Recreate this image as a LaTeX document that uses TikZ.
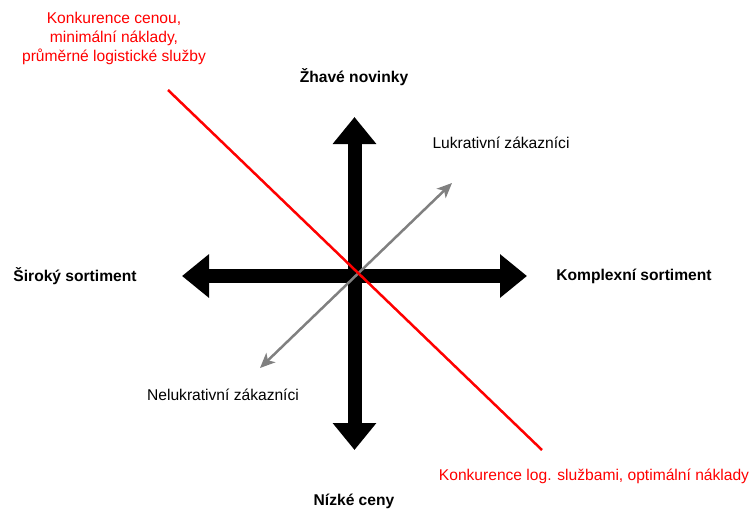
\documentclass[tikz,border=0pt]{standalone}
\usepackage{fontspec}
\setmainfont{Liberation Sans}
\usetikzlibrary{arrows.meta}
\definecolor{redline}{HTML}{FF0000}
\definecolor{grayline}{HTML}{808080}
\tikzset{
  lbl/.style={inner sep=0pt, font=\fontsize{15.6}{19}\selectfont},
  boldlbl/.style={lbl, font=\fontsize{15.6}{19}\selectfont\bfseries},
  redlbl/.style={lbl, text=redline, align=center},
  bigarrow/.style={line width=14pt, draw=black, {Triangle[width=42pt,length=27pt]}-{Triangle[width=42pt,length=27pt]}},
  grayarrow/.style={line width=2.5pt, draw=grayline, {Stealth[length=15pt,width=13pt,inset=4pt]}-{Stealth[length=15pt,width=13pt,inset=4pt]}},
  redstroke/.style={line width=2.5pt, draw=redline}
}
\begin{document}
\begin{tikzpicture}[x=1pt,y=-1pt]
\useasboundingbox (0,0) rectangle (753,512);
% arrow end points
\coordinate (vtop) at (354.5,117);
\coordinate (vbot) at (354.5,450);
\coordinate (hleft) at (182,276);
\coordinate (hright) at (527,276);
\coordinate (gtr) at (452,183);
\coordinate (gbl) at (260,368);
\coordinate (rtl) at (168,90);
\coordinate (rbr) at (542,450);
% labels
\node[boldlbl] (hot) at (354,77) {Žhavé novinky};
\node[boldlbl] (low) at (354,501) {Nízké ceny};
\node[boldlbl] (wide) at (75,276) {Široký sortiment};
\node[boldlbl] (complex) at (634,276) {Komplexní sortiment};
\node[lbl] (luk) at (501,143) {Lukrativní zákazníci};
\node[lbl] (neluk) at (223,395) {Nelukrativní zákazníci};
\node[redlbl] (price) at (114,38) {Konkurence cenou,\\minimální náklady,\\průměrné logistické služby};
\node[redlbl] (service) at (594,476) {Konkurence log. službami, optimální náklady};
% arrows
\draw[bigarrow] (vbot) -- (vtop);
\draw[bigarrow] (hleft) -- (hright);
\draw[grayarrow] (gbl) -- (gtr);
\draw[redstroke] (rtl) -- (rbr);
\end{tikzpicture}
\end{document}
